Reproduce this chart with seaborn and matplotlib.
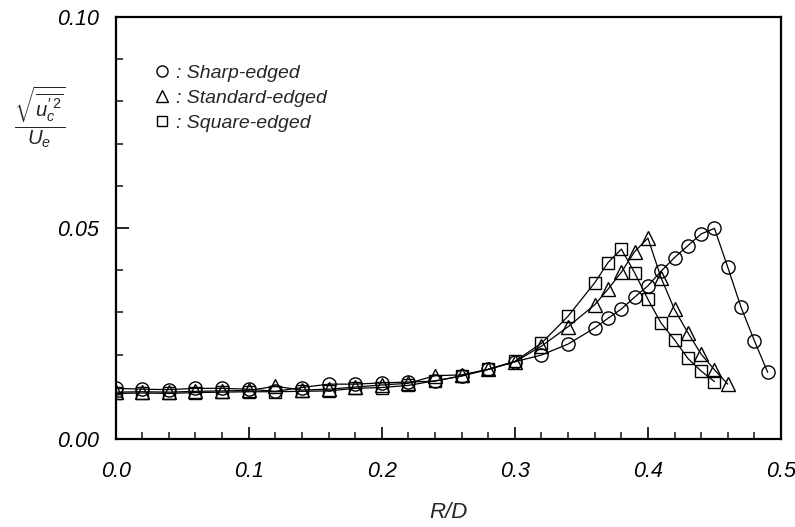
import matplotlib
matplotlib.use("Agg")
import matplotlib.pyplot as plt
from matplotlib.lines import Line2D
import seaborn as sns
import pandas as pd

# ---- data ----
r_sharp = [0.00, 0.02, 0.04, 0.06, 0.08, 0.10, 0.12, 0.14, 0.16, 0.18, 0.20, 0.22, 0.24, 0.26, 0.28,
           0.30, 0.32, 0.34, 0.36, 0.37, 0.38, 0.39, 0.40, 0.41, 0.42, 0.43, 0.44, 0.45, 0.46,
           0.47, 0.48, 0.49]
v_sharp = [0.0120, 0.0118, 0.0117, 0.0120, 0.0120, 0.0118, 0.0113, 0.0122, 0.0130, 0.0130, 0.0133,
           0.0135, 0.0137, 0.0150, 0.0165, 0.0183, 0.0199, 0.0225, 0.0263, 0.0286, 0.0308, 0.0336,
           0.0363, 0.0398, 0.0430, 0.0458, 0.0486, 0.0499, 0.0407, 0.0312, 0.0233, 0.0158]

r_standard = [0.00, 0.02, 0.04, 0.06, 0.08, 0.10, 0.12, 0.14, 0.16, 0.18, 0.20, 0.22, 0.24, 0.26,
              0.28, 0.30, 0.32, 0.34, 0.36, 0.37, 0.38, 0.39, 0.40, 0.41, 0.42, 0.43, 0.44, 0.45,
              0.46]
v_standard = [0.0111, 0.0112, 0.0111, 0.0113, 0.0114, 0.0115, 0.0125, 0.0116, 0.0118, 0.0123,
              0.0128, 0.0132, 0.0150, 0.0152, 0.0165, 0.0183, 0.0220, 0.0266, 0.0318, 0.0355,
              0.0395, 0.0444, 0.0476, 0.0381, 0.0307, 0.0252, 0.0201, 0.0164, 0.0130]

r_square = [0.00, 0.02, 0.04, 0.06, 0.08, 0.10, 0.12, 0.14, 0.16, 0.18, 0.20, 0.22, 0.24, 0.26,
            0.28, 0.30, 0.32, 0.34, 0.36, 0.37, 0.38, 0.39, 0.40, 0.41, 0.42, 0.43, 0.44, 0.45]
v_square = [0.0108, 0.0109, 0.0108, 0.0110, 0.0111, 0.0112, 0.0112, 0.0113, 0.0114, 0.0120,
            0.0122, 0.0127, 0.0138, 0.0149, 0.0165, 0.0184, 0.0227, 0.0291, 0.0370, 0.0418,
            0.0450, 0.0394, 0.0331, 0.0274, 0.0235, 0.0191, 0.0161, 0.0136]

series_labels = [": Sharp-edged", ": Standard-edged", ": Square-edged"]
x_ticks = [0.0, 0.1, 0.2, 0.3, 0.4, 0.5]
y_ticks = [0.00, 0.05, 0.10]

# ---- style ----
sns.set_theme(style="ticks")
plt.rcParams["font.family"] = ["Liberation Sans", "DejaVu Sans"]
plt.rcParams["mathtext.fontset"] = "custom"
plt.rcParams["mathtext.it"] = "Liberation Sans:italic"
plt.rcParams["mathtext.rm"] = "Liberation Sans"

fig = plt.figure(figsize=(7.95, 5.27), dpi=100)
ax = fig.add_axes([115.6 / 795, 1 - 439 / 527, (781 - 115.6) / 795, (439 - 17) / 527])

markers = ["o", "^", "s"]
msizes = [9.5, 10.5, 9]
data = [(r_sharp, v_sharp), (r_standard, v_standard), (r_square, v_square)]
for (rx, vy), m, ms in zip(data, markers, msizes):
    df = pd.DataFrame({"R": rx, "v": vy})
    sns.lineplot(data=df, x="R", y="v", ax=ax, color="black", lw=0.9, sort=False,
                 estimator=None, marker=m, markersize=ms, markerfacecolor="none",
                 markeredgecolor="black", markeredgewidth=1.0)

ax.set_xlim(0, 0.5)
ax.set_ylim(0, 0.10)
ax.set_xticks(x_ticks)
ax.set_xticklabels([f"{t:.1f}" for t in x_ticks])
ax.set_yticks(y_ticks)
ax.set_yticklabels([f"{t:.2f}" for t in y_ticks])
ax.set_xticks([i * 0.02 for i in range(26)], minor=True)
ax.set_yticks([i * 0.01 for i in range(11)], minor=True)

ax.tick_params(axis="both", which="major", direction="in", length=9, width=1.2,
               labelsize=15.5, colors="black")
ax.tick_params(axis="both", which="minor", direction="in", length=5, width=1.2)
ax.tick_params(axis="x", which="major", pad=16)
ax.tick_params(axis="y", which="major", pad=12)
for lab in ax.get_xticklabels() + ax.get_yticklabels():
    lab.set_fontstyle("italic")
for s in ax.spines.values():
    s.set_linewidth(1.6)
    s.set_color("black")
    s.set_visible(True)

ax.set_xlabel("R/D", fontsize=16, fontstyle="italic", labelpad=14)
ax.set_ylabel("")
fig.text(40 / 795, 1 - 117 / 527,
         r"$\frac{\sqrt{\overline{u_c^{\prime\,2}}}}{U_e}$",
         fontsize=21, ha="center", va="center")

handles = [Line2D([], [], marker=m, ls="none", mfc="none", mec="black", mew=1.0, ms=ms - 1.5)
           for m, ms in zip(markers, msizes)]
leg = ax.legend(handles, series_labels, loc="upper left",
                bbox_to_anchor=(154 / 795, 1 - 64 / 527), bbox_transform=fig.transFigure,
                frameon=False, borderpad=0, borderaxespad=0, handlelength=0.8,
                handletextpad=0.35, labelspacing=0.38,
                prop={"family": "Liberation Sans", "style": "italic", "size": 14})

fig.savefig("out.png", dpi=100)
